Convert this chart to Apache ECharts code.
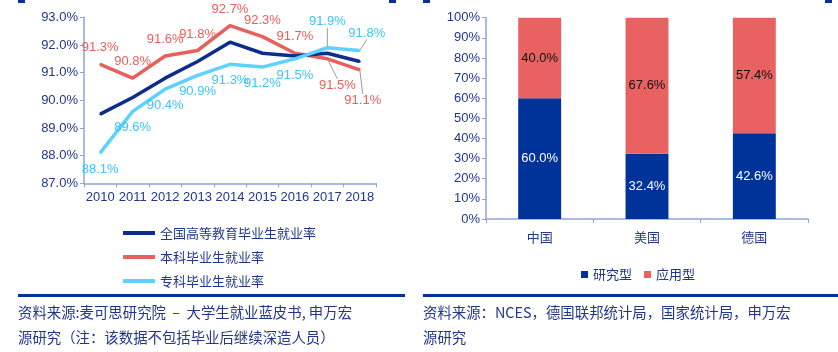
<!DOCTYPE html>
<html>
<head>
<meta charset="utf-8">
<script src="https://cdn.jsdelivr.net/npm/echarts@6/dist/echarts.min.js"></script>
<style>
  html, body { margin: 0; padding: 0; background: #fff; }
  #chart { position: absolute; left: 0; top: 0; width: 838px; height: 352px; }
  .note { position: absolute; font-family: "Noto Sans CJK SC", sans-serif; font-size: 14.4px;
          line-height: 25px; color: #22378a; white-space: nowrap; }
  .rule { position: absolute; height: 3px; background: #003399; }
</style>
</head>
<body>
<div id="chart"></div>
<div class="rule" style="left:18px; top:294px; width:387px;"></div>
<div class="rule" style="left:423px; top:294px; width:415px;"></div>
<div class="note" style="left:18px; top:299px;">资料来源:麦可思研究院&nbsp;&nbsp;–&nbsp;&nbsp;大学生就业蓝皮书, 申万宏<br>源研究（注：该数据不包括毕业后继续深造人员）</div>
<div class="note" style="left:423px; top:299px;">资料来源：NCES，德国联邦统计局，国家统计局，申万宏<br>源研究</div>
<script>
// left: employment rates (%)
const years = ['2010', '2011', '2012', '2013', '2014', '2015', '2016', '2017', '2018'];
const allRate = [89.5, 90.1, 90.8, 91.4, 92.1, 91.7, 91.6, 91.7, 91.4];
const bachelorRate = [91.3, 90.8, 91.6, 91.8, 92.7, 92.3, 91.7, 91.5, 91.1];
const juniorRate = [88.1, 89.6, 90.4, 90.9, 91.3, 91.2, 91.5, 91.9, 91.8];

// right: research vs applied share (%)
const countries = ['中国', '美国', '德国'];
const research = [60.0, 32.4, 42.6];
const applied = [40.0, 67.6, 57.4];

const axisBlue = '#8ea5dc';
const labelBlue = '#22378a';
const font = 'Liberation Sans, Arial, sans-serif';
const cjk = 'Noto Sans CJK SC, sans-serif';

// labels pulled to the other side of the line, with a leader line: [series, index, dx, dy]
const moved = [[1, 7, 10, 43], [1, 8, 3, 47], [2, 7, 0, -43], [2, 8, 7, -34]];

function withLines(arr, sIdx) {
  return arr.map((v, i) => {
    const hit = moved.find(m => m[0] === sIdx && m[1] === i);
    return hit ? { value: v, labelLine: { show: true } } : v;
  });
}

const chart = echarts.init(document.getElementById('chart'));

chart.setOption({
  animation: false,
  graphic: [
    { type: 'rect', shape: { x: 18, y: 0, width: 7, height: 3 }, style: { fill: '#003399' } },
    { type: 'rect', shape: { x: 389, y: 0, width: 7, height: 3 }, style: { fill: '#003399' } },
    { type: 'rect', shape: { x: 423, y: 0, width: 7, height: 3 }, style: { fill: '#003399' } },
    { type: 'rect', shape: { x: 825, y: 0, width: 7, height: 3 }, style: { fill: '#003399' } }
  ],
  legend: [
    {
      data: ['全国高等教育毕业生就业率', '本科毕业生就业率', '专科毕业生就业率'],
      orient: 'vertical',
      left: 118, top: 220,
      icon: 'rect', itemWidth: 32, itemHeight: 4, itemGap: 8,
      textStyle: { fontFamily: cjk, fontSize: 13, color: labelBlue, lineHeight: 16 }
    },
    {
      data: ['研究型', '应用型'],
      left: 576, top: 263,
      icon: 'rect', itemWidth: 7, itemHeight: 7, itemGap: 12,
      textStyle: { fontFamily: cjk, fontSize: 13, color: labelBlue }
    }
  ],
  grid: [
    { left: 84, right: 462, top: 17.3, bottom: 168.7 },
    { left: 486, right: 30, top: 17.7, bottom: 133 }
  ],
  xAxis: [
    {
      gridIndex: 0, type: 'category', data: years,
      axisLine: { lineStyle: { color: axisBlue, width: 1.5 } },
      axisTick: { show: true, length: 4, lineStyle: { color: axisBlue } },
      axisLabel: { color: labelBlue, fontSize: 13, fontFamily: font, margin: 8, interval: 0 }
    },
    {
      gridIndex: 1, type: 'category', data: countries,
      axisLine: { lineStyle: { color: axisBlue, width: 1.5 } },
      axisTick: { show: true, length: 4, lineStyle: { color: axisBlue } },
      axisLabel: { color: labelBlue, fontSize: 13, fontFamily: cjk, margin: 12 }
    }
  ],
  yAxis: [
    {
      gridIndex: 0, type: 'value', min: 87, max: 93, interval: 1,
      splitLine: { show: false },
      axisLine: { show: true, lineStyle: { color: axisBlue, width: 1.5 } },
      axisTick: { show: true, length: 4, lineStyle: { color: axisBlue } },
      axisLabel: { color: labelBlue, fontSize: 13, fontFamily: font, margin: 6,
                   formatter: v => v.toFixed(1) + '%' }
    },
    {
      gridIndex: 1, type: 'value', min: 0, max: 100, interval: 10,
      splitLine: { show: false },
      axisLine: { show: true, lineStyle: { color: axisBlue, width: 1.5 } },
      axisTick: { show: true, length: 4, lineStyle: { color: axisBlue } },
      axisLabel: { color: labelBlue, fontSize: 13, fontFamily: font, margin: 6,
                   formatter: v => v + '%' }
    }
  ],
  series: [
    {
      name: '全国高等教育毕业生就业率', type: 'line', data: allRate,
      xAxisIndex: 0, yAxisIndex: 0, symbol: 'circle', symbolSize: 2, z: 3,
      lineStyle: { color: '#0d2d8c', width: 3.5 }, itemStyle: { color: '#0d2d8c' }
    },
    {
      name: '本科毕业生就业率', type: 'line', data: withLines(bachelorRate, 1),
      xAxisIndex: 0, yAxisIndex: 0, symbol: 'circle', symbolSize: 2, z: 2,
      lineStyle: { color: '#e8605b', width: 3.5 }, itemStyle: { color: '#e8605b' },
      label: { show: true, position: 'top', distance: 9, color: '#e8605b',
               fontSize: 13, fontFamily: font, formatter: p => p.value.toFixed(1) + '%' },
      labelLine: { lineStyle: { color: '#9a9a9a', width: 1 } }
    },
    {
      name: '专科毕业生就业率', type: 'line', data: withLines(juniorRate, 2),
      xAxisIndex: 0, yAxisIndex: 0, symbol: 'circle', symbolSize: 2, z: 4,
      lineStyle: { color: '#5dd2ff', width: 3.5 }, itemStyle: { color: '#5dd2ff' },
      label: { show: true, position: 'bottom', distance: 9, color: '#3cc4fb',
               fontSize: 13, fontFamily: font, formatter: p => p.value.toFixed(1) + '%' },
      labelLine: { lineStyle: { color: '#9a9a9a', width: 1 } }
    },
    {
      name: '研究型', type: 'bar', stack: 'share', data: research,
      xAxisIndex: 1, yAxisIndex: 1, barWidth: '40%',
      itemStyle: { color: '#003399' },
      label: { show: true, position: 'inside', offset: [0, 2], color: '#fff', fontSize: 13,
               fontFamily: font, formatter: p => p.value.toFixed(1) + '%' }
    },
    {
      name: '应用型', type: 'bar', stack: 'share', data: applied,
      xAxisIndex: 1, yAxisIndex: 1, barWidth: '40%',
      itemStyle: { color: '#e86262' },
      label: { show: true, position: 'inside', offset: [0, 2], color: '#111', fontSize: 13,
               fontFamily: font, formatter: p => p.value.toFixed(1) + '%' }
    }
  ],
  labelLayout: function (params) {
    const hit = moved.find(m => m[0] === params.seriesIndex && m[1] === params.dataIndex);
    return hit ? { dx: hit[2], dy: hit[3] } : {};
  }
});
</script>
</body>
</html>
